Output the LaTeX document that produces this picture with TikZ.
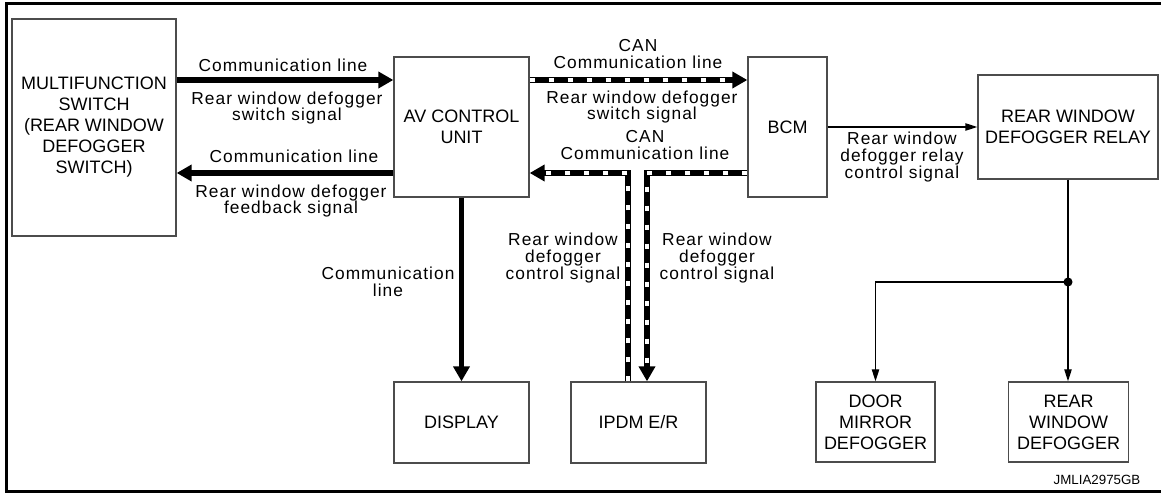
\documentclass[tikz,border=0pt]{standalone}
\usepackage{fontspec}
\setmainfont{Liberation Sans}
\newfontfamily\lblfont[LetterSpace=6]{Liberation Sans}
\usetikzlibrary{arrows.meta}
\begin{document}
\begin{tikzpicture}[x=0.75pt,y=-0.75pt,
  box/.style={draw=black!70,line width=1pt,inner sep=0pt,align=center,
    font=\fontsize{13.5}{15.75}\selectfont},
  lbl/.style={inner sep=0pt,align=center,font=\lblfont\fontsize{13}{12.5}\selectfont},
  thickarrow/.style={line width=4.4pt,-{Triangle[length=11.25pt,width=12pt]}},
  thinarrow/.style={line width=1pt,-{Triangle[length=9pt,width=5.5pt]}},
  canline/.style={line width=4.5pt,-{Triangle[length=11.25pt,width=12pt]},
    postaction={draw=white,line width=2.4pt,-,dash pattern=on 3.75pt off 10.5pt,shorten >=11.25pt}}
]
\useasboundingbox (0,0) rectangle (1161,495);
% frame
\draw[line width=2.6pt] (1170,3.7) -- (6.5,3.7) -- (6.5,491.5) -- (1170,491.5);

% boxes
\node[box,minimum width=123pt,minimum height=162.75pt] (mf) at (94,127.5)
  {MULTIFUNCTION\\SWITCH\\(REAR WINDOW\\DEFOGGER\\SWITCH)};
\node[box,minimum width=101.25pt,minimum height=105pt] (av) at (461.5,127) {AV CONTROL\\UNIT};
\node[box,minimum width=59.25pt,minimum height=105pt] (bcm) at (787.5,127) {BCM};
\node[box,minimum width=135pt,minimum height=78pt] (relay) at (1068,127) {REAR WINDOW\\DEFOGGER RELAY};
\node[box,minimum width=101.25pt,minimum height=60.75pt] (disp) at (461.5,422.5) {DISPLAY};
\node[box,minimum width=101.25pt,minimum height=60.75pt] (ipdm) at (638.5,422.5) {IPDM E/R};
\node[box,minimum width=89.25pt,minimum height=60pt] (door) at (875.5,422) {DOOR\\MIRROR\\DEFOGGER};
\node[box,minimum width=90pt,minimum height=60pt] (rwd) at (1068.5,422) {REAR\\WINDOW\\DEFOGGER};

% thick communication lines
\draw[thickarrow] (mf.east |- 0,80) -- (av.west |- 0,80);
\draw[thickarrow] (av.west |- 0,173) -- (mf.east |- 0,173);
\draw[thickarrow] (av.south) -- (disp.north);

% CAN lines
\coordinate (cr) at (647,173);
\coordinate (cl) at (628,173);
\draw[canline] (av.east |- 0,80) -- (bcm.west |- 0,80);
\draw[canline] (bcm.west |- cr) -- (cr) -- (ipdm.north -| cr);
\draw[canline] (ipdm.north -| cl) -- (cl) -- (av.east |- cl);

% thin lines
\draw[thinarrow] (bcm.east) -- (relay.west);
\coordinate (dot) at (1068,282);
\draw[line width=1pt] (relay.south) -- (dot);
\draw[thinarrow] (dot) -- (dot |- rwd.north);
\draw[thinarrow] (dot) -| (door.north);
\fill (dot) circle[radius=3.4pt];

% labels
\node[lbl] (l1) at (283,65) {Communication line};
\node[lbl] (l2) at (287,108) {Rear window defogger\\switch signal};
\node[lbl] (l3) at (294,156) {Communication line};
\node[lbl] (l4) at (291,201) {Rear window defogger\\feedback signal};
\node[lbl] (l5) at (638,54) {CAN\\Communication line};
\node[lbl] (l6) at (642,107) {Rear window defogger\\switch signal};
\node[lbl] (l7) at (645,145) {CAN\\Communication line};
\node[lbl] (l8) at (388,282) {Communication\\line};
\node[lbl] (l9) at (563,258) {Rear window\\defogger\\control signal};
\node[lbl] (l10) at (717,258) {Rear window\\defogger\\control signal};
\node[lbl] (l11) at (902,157) {Rear window\\defogger relay\\control signal};
\node[inner sep=0pt,font=\fontsize{10}{12}\selectfont] (id) at (1097,480) {JMLIA2975GB};
\end{tikzpicture}
\end{document}
